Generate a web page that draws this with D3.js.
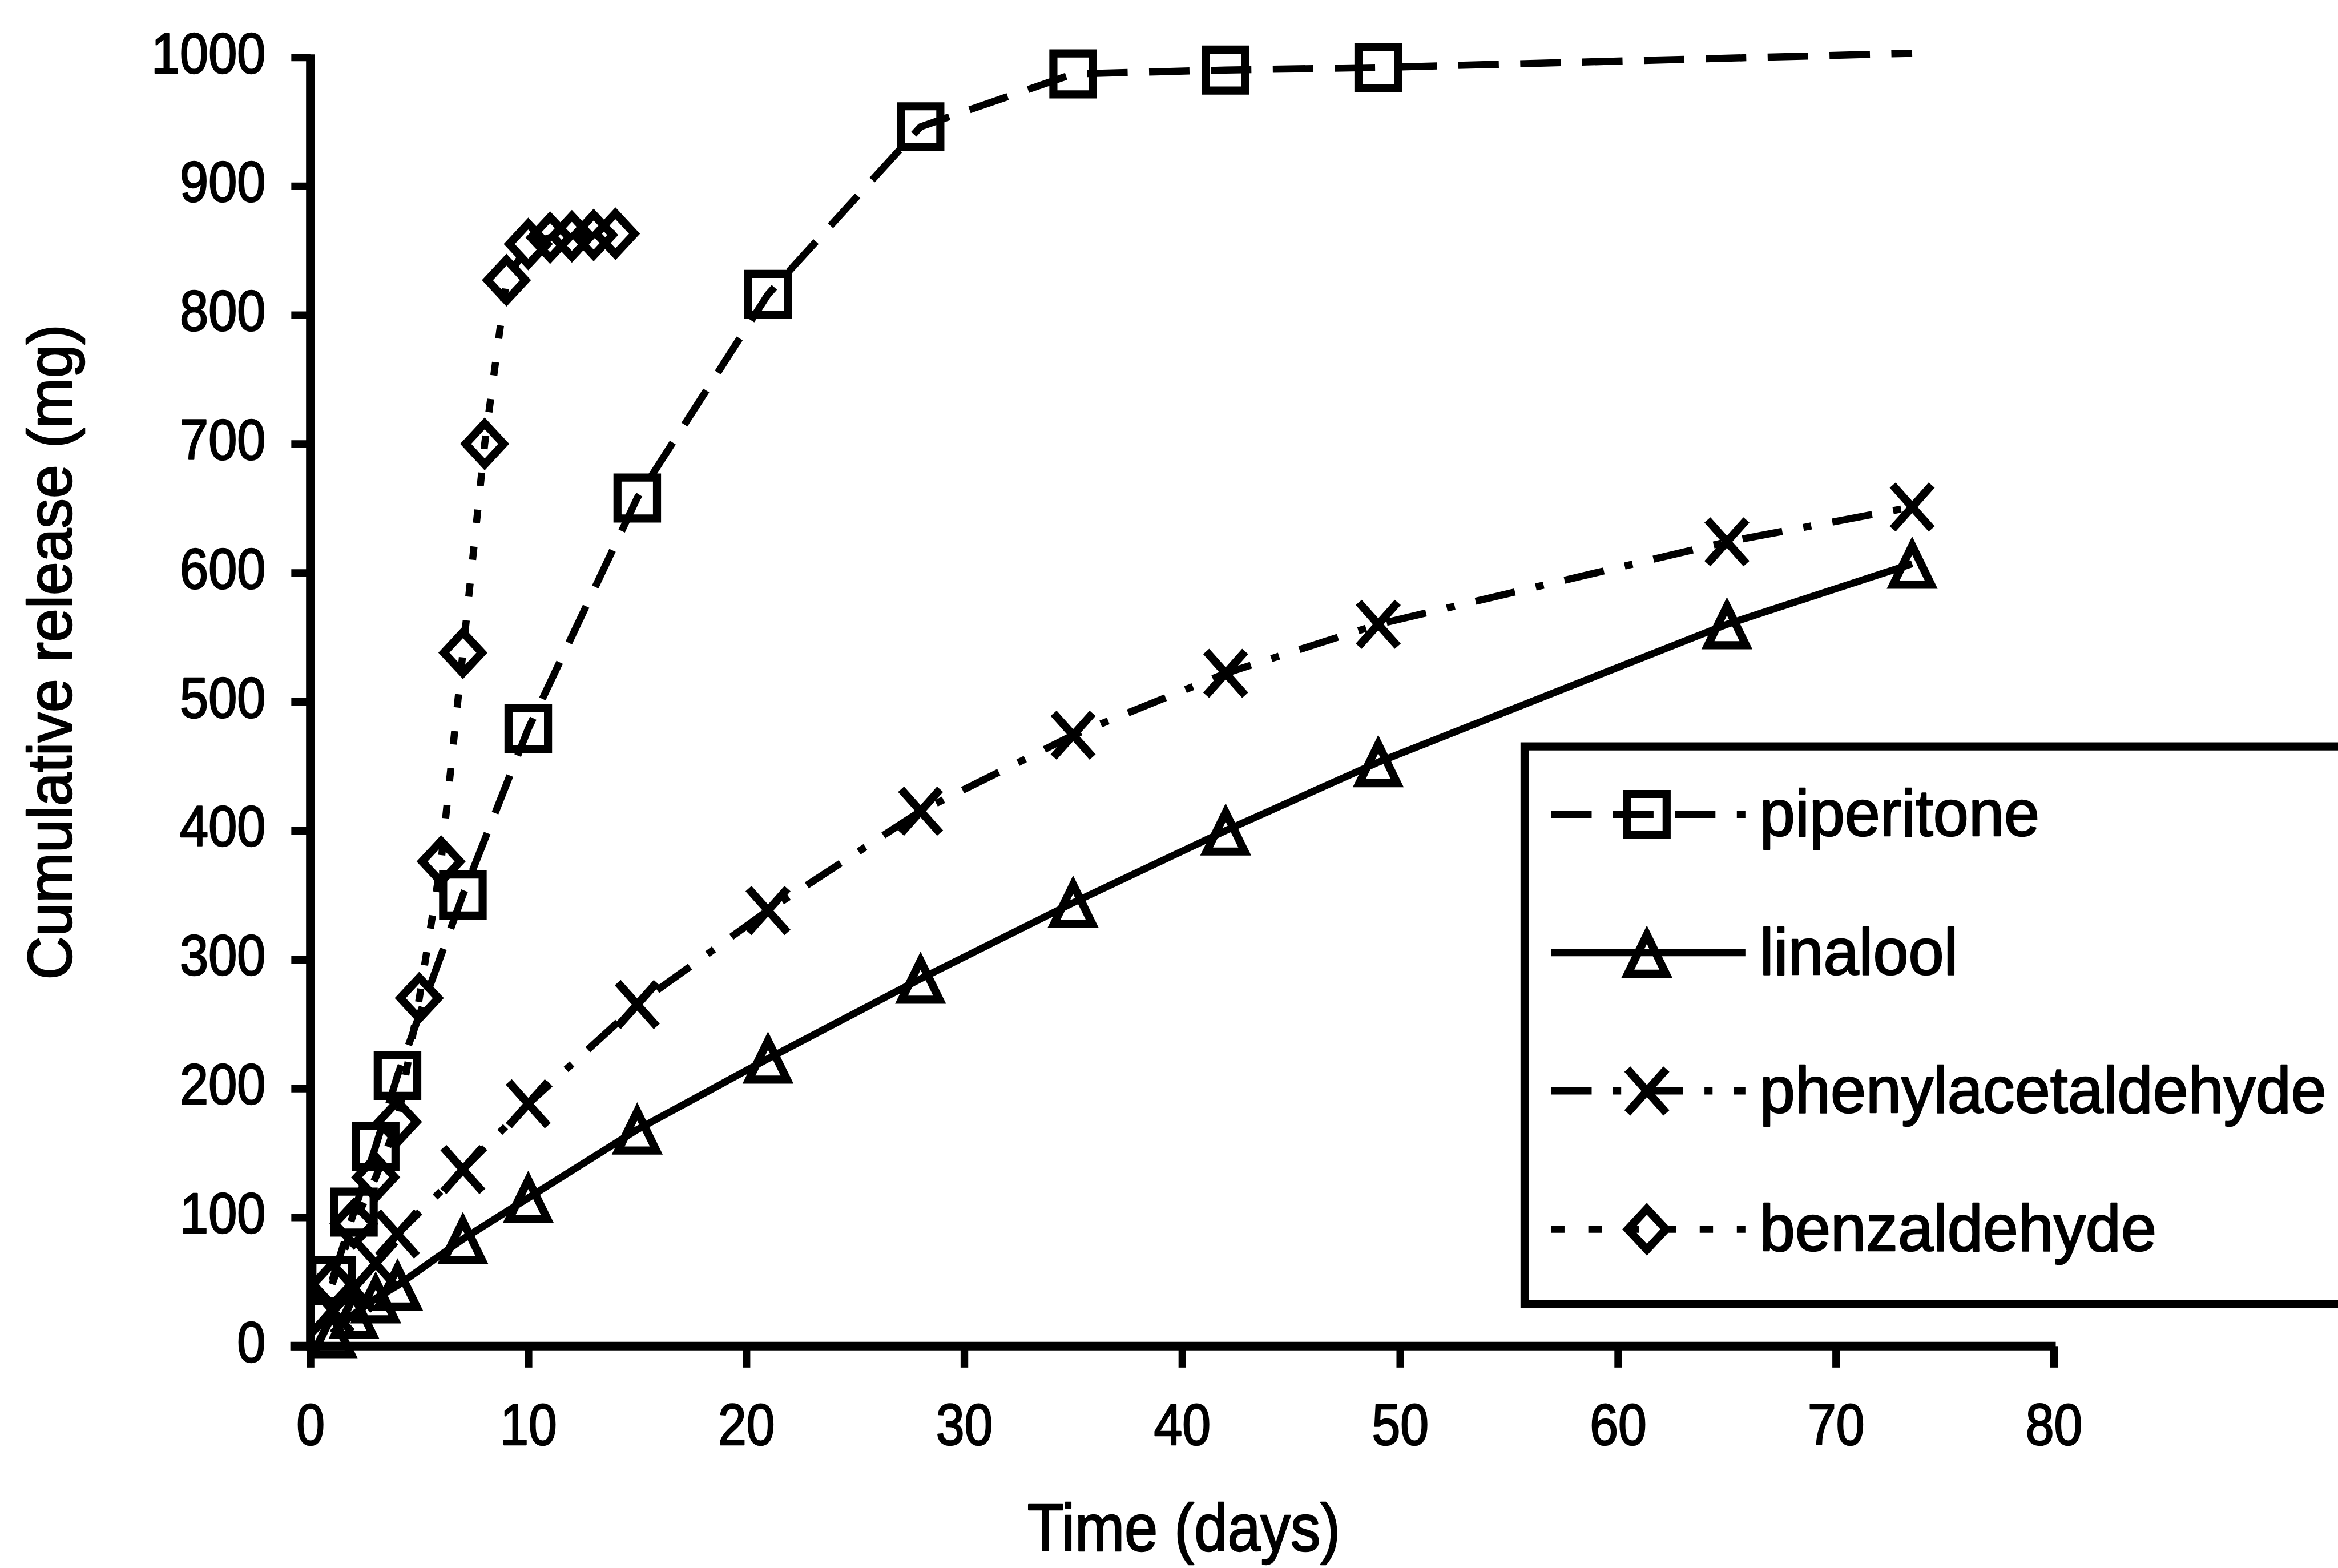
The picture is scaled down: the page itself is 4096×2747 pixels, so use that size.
<!DOCTYPE html>
<html>
<head>
<meta charset="utf-8">
<script src="https://cdn.jsdelivr.net/npm/d3@7"></script>
<style>
  html, body { margin: 0; padding: 0; background: #fff; }
  svg { display: block; }
</style>
</head>
<body>
<svg id="chart"></svg>
<script>
// Sampling days and cumulative release (mg) per compound
const days = [1, 2, 3, 4, 7, 10, 15, 21, 28, 35, 42, 49, 65, 73.5];
const piperitoneDays = [1, 2, 3, 4, 7, 10, 15, 21, 28, 35, 42, 49, 73.5];
const piperitone = [51, 104, 155, 210, 350, 479, 658, 816, 946, 987, 990, 992, 1003];
const linalool = [10, 25, 37, 47, 83, 115, 168, 223, 285, 344, 400, 453, 560, 607];
const phenylacetaldehyde = [28, 45, 64, 87, 137, 188, 265, 338, 415, 474, 522, 560, 624, 651];
const benzaldehydeDays = [1, 2, 3, 4, 5, 6, 7, 8, 9, 10, 11, 12, 13, 14];
const benzaldehyde = [48, 95, 131, 174, 270, 376, 538, 700, 827, 855, 860, 861, 862, 863];

const xTicks = [0, 10, 20, 30, 40, 50, 60, 70, 80];
const yTicks = [0, 100, 200, 300, 400, 500, 600, 700, 800, 900, 1000];
const seriesNames = ["piperitone", "linalool", "phenylacetaldehyde", "benzaldehyde"];
const xTitle = "Time (days)";
const yTitle = "Cumulative release (mg)";

// Drawing is laid out on a 4912 x 3294 canvas and scaled down to the window
const W = 4912, H = 3294;
const FONT = "'Liberation Sans', Arial, Helvetica, sans-serif";
const TEXT_STROKE = 3;

const svg = d3.select("#chart")
  .attr("width", 4096)
  .attr("height", 2747)
  .attr("viewBox", `0 0 ${W} ${H}`);

svg.append("rect").attr("width", W).attr("height", H).attr("fill", "#fff");

const x = d3.scaleLinear().domain([0, 80]).range([652, 4315]);
const y = d3.scaleLinear().domain([0, 1000]).range([2828, 120]);

// Marker outlines, centred on the data point (unfilled)
const markerPath = {
  square: "M-41.5,-43H41.5V43H-41.5Z",
  triangle: "M0,-38L40,44H-40Z",
  cross: "M-41,-46L41,46M-41,46L41,-46",
  diamond: "M0,-43L40,0L0,43L-40,0Z"
};

const series = [
  { name: seriesNames[0], xs: piperitoneDays, ys: piperitone, marker: "square",
    dash: "85,45", markCount: piperitoneDays.length - 1 },
  { name: seriesNames[1], xs: days, ys: linalool, marker: "triangle",
    dash: null, markCount: days.length },
  { name: seriesNames[2], xs: days, ys: phenylacetaldehyde, marker: "cross",
    dash: "85,45,17,45", markCount: days.length },
  { name: seriesNames[3], xs: benzaldehydeDays, ys: benzaldehyde, marker: "diamond",
    dash: "28,50", markCount: benzaldehydeDays.length }
];

const LINE_W = 15;
const MARK_W = 17;

function inkText(sel) {
  return sel.attr("font-family", FONT).attr("fill", "#000")
    .attr("stroke", "#000").attr("stroke-width", TEXT_STROKE)
    .attr("stroke-linejoin", "round");
}

// Axes
const yAxis = d3.axisLeft(y).tickValues(yTicks).tickFormat(d3.format("d"))
  .tickSize(40).tickSizeOuter(0).tickPadding(54);
const gy = svg.append("g").attr("transform", `translate(${x(0)},0)`).call(yAxis);
gy.select(".domain").attr("stroke", "#000").attr("stroke-width", 18)
  .attr("d", `M0,${y(0) + 9}V${y(1000) - 6}`);
gy.selectAll(".tick line").attr("stroke", "#000").attr("stroke-width", 16);
gy.selectAll(".tick text")
  .call(inkText)
  .attr("font-size", 120)
  .attr("x", -94 / 0.9).attr("dy", "0.27em")
  .attr("transform", "scale(0.9,1)");

const xAxis = d3.axisBottom(x).tickValues(xTicks).tickFormat(d3.format("d"))
  .tickSize(45).tickSizeOuter(0).tickPadding(75);
const gx = svg.append("g").attr("transform", `translate(0,${y(0)})`).call(xAxis);
gx.select(".domain").attr("stroke", "#000").attr("stroke-width", 18)
  .attr("d", `M${x(0) - 42},0H${x(80) + 4}`);
gx.selectAll(".tick line").attr("stroke", "#000").attr("stroke-width", 16);
gx.selectAll(".tick text")
  .call(inkText)
  .attr("font-size", 122)
  .attr("transform", "scale(0.88,1)");

// Axis titles
svg.append("text")
  .attr("transform", "translate(2487,3258) scale(0.89,1)")
  .attr("text-anchor", "middle")
  .call(inkText)
  .attr("font-size", 141)
  .text(xTitle);

svg.append("text")
  .attr("transform", "translate(150,1370) rotate(-90) scale(0.965,1)")
  .attr("text-anchor", "middle")
  .call(inkText)
  .attr("font-size", 131)
  .text(yTitle);

// Series lines and markers
const line = d3.line().x(d => x(d[0])).y(d => y(d[1]));
series.forEach(s => {
  const pts = s.xs.map((d, i) => [d, s.ys[i]]);
  svg.append("path")
    .datum(pts)
    .attr("d", line)
    .attr("fill", "none")
    .attr("stroke", "#000")
    .attr("stroke-width", LINE_W)
    .attr("stroke-linejoin", "round")
    .attr("stroke-dasharray", s.dash);
  svg.append("g").selectAll("path")
    .data(pts.slice(0, s.markCount))
    .join("path")
    .attr("transform", d => `translate(${x(d[0])},${y(d[1])})`)
    .attr("d", markerPath[s.marker])
    .attr("fill", "none")
    .attr("stroke", "#000")
    .attr("stroke-width", MARK_W)
    .attr("stroke-linejoin", "miter");
});

// Legend (box runs off the right edge)
const legend = svg.append("g");
legend.append("rect")
  .attr("x", 3203).attr("y", 1568)
  .attr("width", 2000).attr("height", 1172)
  .attr("fill", "#fff").attr("stroke", "#000").attr("stroke-width", 17);

series.forEach((s, i) => {
  const cy = 1711 + i * 290.5;
  legend.append("path")
    .attr("d", `M3259,${cy}H3667`)
    .attr("stroke", "#000").attr("stroke-width", LINE_W)
    .attr("stroke-dasharray", s.dash);
  legend.append("path")
    .attr("transform", `translate(3460,${cy})`)
    .attr("d", markerPath[s.marker])
    .attr("fill", "none").attr("stroke", "#000").attr("stroke-width", MARK_W);
  legend.append("text")
    .attr("transform", `translate(3697,${cy + 45}) scale(0.97,1)`)
    .call(inkText)
    .attr("font-size", 138)
    .text(s.name);
});
</script>
</body>
</html>
